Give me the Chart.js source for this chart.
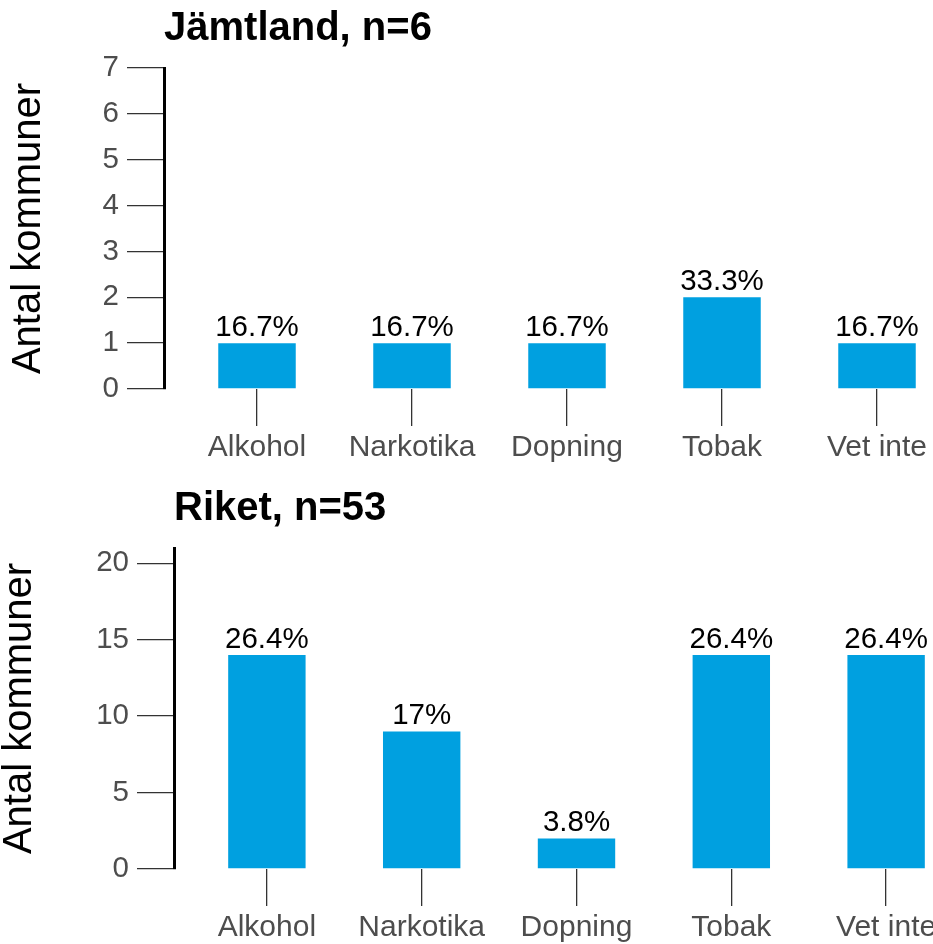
<!DOCTYPE html>
<html>
<head>
<meta charset="utf-8">
<title>Antal kommuner</title>
<script src="https://cdn.jsdelivr.net/npm/chart.js@4.4.1/dist/chart.umd.min.js"></script>
<style>
  html, body { margin: 0; padding: 0; background: #fff; overflow: hidden; }
  #wrap { position: relative; width: 933px; height: 944px; overflow: hidden; }
  #wrap canvas { position: absolute; left: 0; }
  #chartJamtland { top: 0; }
  #chartRiket { top: 480px; }
</style>
</head>
<body>
<div id="wrap">
  <canvas id="chartJamtland" width="970" height="480"></canvas>
  <canvas id="chartRiket" width="979" height="464"></canvas>
</div>
<script>
var categories = ['Alkohol', 'Narkotika', 'Dopning', 'Tobak', 'Vet inte'];

var jamtlandN = 6;
var jamtlandCounts = [1, 1, 1, 2, 1];
var jamtlandTicks = [0, 1, 2, 3, 4, 5, 6, 7];

var riketN = 53;
var riketCounts = [14, 9, 2, 14, 14];
var riketTicks = [0, 5, 10, 15, 20];

(function () {
  document.addEventListener('DOMContentLoaded', init);

  function pctLabel(count, n) {
    return Number((count / n * 100).toFixed(1)) + '%';
  }

  // percentage text above each bar
  var barLabels = {
    id: 'barLabels',
    afterDatasetsDraw: function (chart) {
      var ctx = chart.ctx;
      var ds = chart.data.datasets[0];
      ctx.save();
      ctx.font = '29.5px "Liberation Sans", Arial, sans-serif';
      ctx.fillStyle = '#000';
      ctx.textAlign = 'center';
      ctx.textBaseline = 'alphabetic';
      chart.getDatasetMeta(0).data.forEach(function (bar, i) {
        ctx.fillText(ds.pct[i], bar.x, bar.y - 7);
      });
      ctx.restore();
    }
  };

  function makeChart(id, title, counts, n, yTicks, yMax, axisWidth, xHeight, yTitlePad) {
    var context = document.getElementById(id).getContext('2d');
    return new Chart(context, {
      type: 'bar',
      data: {
        datasets: [{
          data: counts.map(function (v, i) { return { x: i + 1, y: v }; }),
          pct: counts.map(function (v) { return pctLabel(v, n); }),
          backgroundColor: '#00a0e0',
          borderWidth: 0,
          categoryPercentage: 0.5,
          barPercentage: 1
        }]
      },
      options: {
        responsive: false,
        animation: false,
        events: [],
        layout: { padding: 0 },
        plugins: {
          legend: { display: false },
          tooltip: { enabled: false },
          title: {
            display: true,
            text: title,
            align: 'start',
            fullSize: false,
            color: '#000',
            font: { size: 40, weight: 'bold' },
            padding: { top: 5, bottom: 15 }
          }
        },
        scales: {
          x: {
            type: 'linear',
            min: 0.4,
            max: 5.6,
            offset: false,
            afterBuildTicks: function (axis) {
              axis.ticks = categories.map(function (c, i) { return { value: i + 1 }; });
            },
            afterFit: function (axis) { axis.height = xHeight; },
            ticks: {
              callback: function (v) { return categories[v - 1]; },
              color: '#4d4d4d',
              font: { size: 30 },
              padding: 4,
              maxRotation: 0,
              autoSkip: false
            },
            grid: { offset: false, drawOnChartArea: false, tickLength: 37, color: '#333', lineWidth: 1.3 },
            border: { display: false }
          },
          y: {
            min: 0,
            max: yMax,
            afterBuildTicks: function (axis) {
              axis.ticks = yTicks.map(function (v) { return { value: v }; });
            },
            afterFit: function (axis) { axis.width = axisWidth; },
            ticks: { color: '#4d4d4d', font: { size: 29.5 }, padding: 8 },
            grid: { drawOnChartArea: false, tickLength: 37, color: '#333', lineWidth: 1.3 },
            border: { display: true, color: '#000', width: 3 },
            title: {
              display: true,
              text: 'Antal kommuner',
              color: '#000',
              font: { size: 40, lineHeight: 1 },
              padding: { top: yTitlePad, bottom: 0 }
            }
          }
        }
      },
      plugins: [barLabels]
    });
  }

  function init() {
    Chart.defaults.font.family = '"Liberation Sans", Arial, sans-serif';

    makeChart('chartJamtland', 'Jämtland, n=' + jamtlandN, jamtlandCounts, jamtlandN,
      jamtlandTicks, 7, 164, 91, 9);

    makeChart('chartRiket', 'Riket, n=' + riketN, riketCounts, riketN,
      riketTicks, 21, 174, 75, 0);
  }
})();
</script>
</body>
</html>
